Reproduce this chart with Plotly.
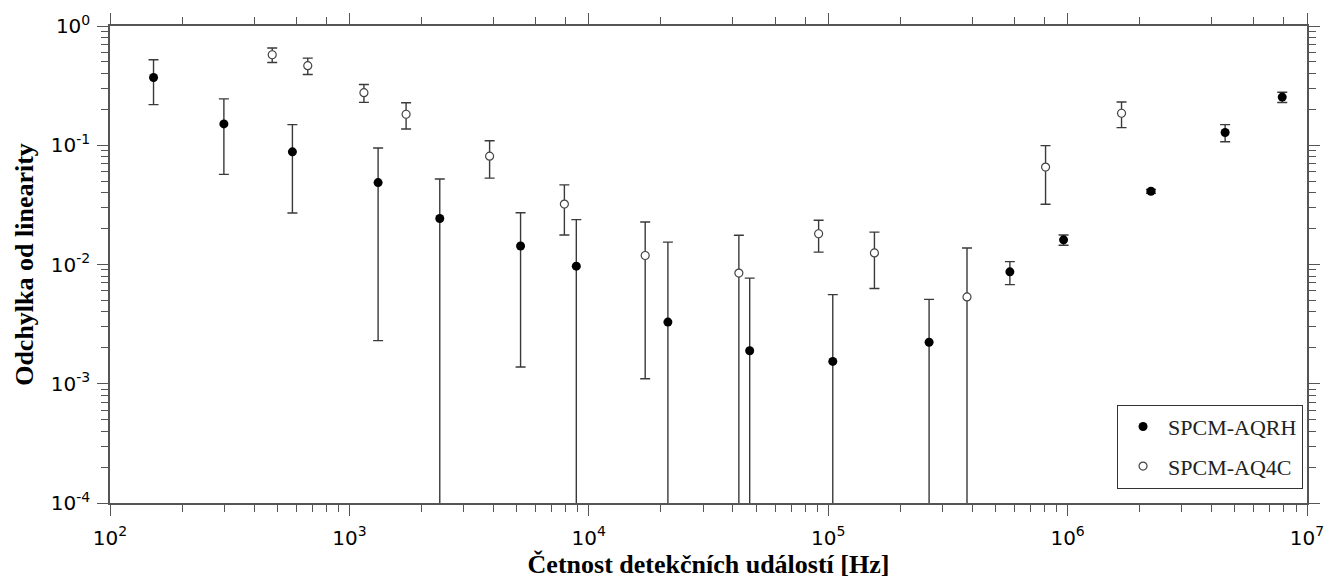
import plotly.graph_objects as go

# SPCM-AQRH (filled)
aqrh_x = [152, 299, 578, 1318, 2385, 5188, 8868, 21400, 47000, 104500, 263900, 574000, 962000, 2.23e6, 4.55e6, 7.88e6]
aqrh_y = [0.37, 0.151, 0.088, 0.0486, 0.0243, 0.01428, 0.00968, 0.00329, 0.00189, 0.00154, 0.00223, 0.00868, 0.0161, 0.0411, 0.128, 0.2535]
aqrh_err = [0.151, 0.094, 0.061, 0.0463, 0.0278, 0.0129, 0.0141, 0.0121, 0.0058, 0.00405, 0.00287, 0.0019, 0.0016, 0.0015, 0.021, 0.025]

# SPCM-AQ4C (open)
aq4c_x = [476, 670, 1150, 1725, 3852, 7907, 17200, 42350, 91200, 156000, 380000, 809000, 1.68e6]
aq4c_y = [0.574, 0.465, 0.276, 0.182, 0.081, 0.0321, 0.0119, 0.00847, 0.0181, 0.0125, 0.00535, 0.0656, 0.1855]
aq4c_err = [0.08, 0.073, 0.047, 0.045, 0.028, 0.0144, 0.0108, 0.0091, 0.0054, 0.0062, 0.0084, 0.0336, 0.045]

x_tickvals = [1e2, 1e3, 1e4, 1e5, 1e6, 1e7]
x_ticktext = ["10<sup>2</sup>", "10<sup>3</sup>", "10<sup>4</sup>", "10<sup>5</sup>", "10<sup>6</sup>", "10<sup>7</sup>"]
y_tickvals = [1e-4, 1e-3, 1e-2, 1e-1, 1e0]
y_ticktext = ["10<sup>-4</sup>", "10<sup>-3</sup>", "10<sup>-2</sup>", "10<sup>-1</sup>", "10<sup>0</sup>"]
top_minor = [m * 10 ** e for e in range(2, 7) for m in (2, 4, 6, 8)]

ERR_COLOR = "#3a3a3a"
AX_COLOR = "#555555"

fig = go.Figure()
fig.add_trace(go.Scatter(
    x=aqrh_x, y=aqrh_y, mode="markers", name="SPCM-AQRH",
    marker=dict(color="black", size=9, symbol="circle"),
    error_y=dict(type="data", array=aqrh_err, symmetric=True, color=ERR_COLOR, thickness=1.4, width=5),
    legendgroup="a",
))
fig.add_trace(go.Scatter(
    x=aq4c_x, y=aq4c_y, mode="markers", name="SPCM-AQ4C",
    marker=dict(color="white", size=8, symbol="circle", line=dict(color="#444444", width=1.2)),
    error_y=dict(type="data", array=aq4c_err, symmetric=True, color=ERR_COLOR, thickness=1.4, width=5),
    legendgroup="b",
))
# invisible copy to anchor the top axis
fig.add_trace(go.Scatter(
    x=aqrh_x, y=aqrh_y, mode="markers", xaxis="x2", showlegend=False,
    marker=dict(opacity=0), hoverinfo="skip",
))

tick_font = dict(family="DejaVu Sans", size=20, color="black")
title_font = dict(family="Liberation Serif", size=26, color="black")

fig.update_layout(
    width=1336, height=585,
    margin=dict(l=110, r=16, t=22, b=82),
    paper_bgcolor="white", plot_bgcolor="white",
    showlegend=True,
    legend=dict(
        x=0.9967, xanchor="right", y=0.03, yanchor="bottom",
        bgcolor="white", bordercolor="#333333", borderwidth=1,
        font=dict(family="Liberation Serif", size=22, color="#222222"),
        tracegroupgap=8, itemwidth=40,
    ),
    xaxis=dict(
        type="log", range=[2, 7], tickvals=x_tickvals, ticktext=x_ticktext,
        ticks="outside", ticklen=11, tickwidth=1.3, tickcolor=AX_COLOR,
        showline=True, linecolor=AX_COLOR, linewidth=1.5,
        showgrid=False, zeroline=False, tickfont=tick_font, ticklabelstandoff=5,
        minor=dict(ticks="outside", ticklen=7, tickwidth=1.2, tickcolor=AX_COLOR, dtick="D1", showgrid=False),
        title=dict(text="<b>Četnost detekčních událostí [Hz]</b>", font=title_font, standoff=3),
    ),
    xaxis2=dict(
        type="log", range=[2, 7], overlaying="x", side="top", anchor="y",
        tickvals=x_tickvals, showticklabels=False,
        ticks="outside", ticklen=11, tickwidth=1.3, tickcolor=AX_COLOR,
        showline=True, linecolor=AX_COLOR, linewidth=1.5,
        showgrid=False, zeroline=False,
        minor=dict(ticks="outside", ticklen=7, tickwidth=1.2, tickcolor=AX_COLOR,
                   tickvals=top_minor, showgrid=False),
    ),
    yaxis=dict(
        type="log", range=[-4, 0], tickvals=y_tickvals, ticktext=y_ticktext,
        ticks="outside", ticklen=11, tickwidth=1.3, tickcolor=AX_COLOR,
        showline=True, linecolor=AX_COLOR, linewidth=1.5, mirror="ticks",
        showgrid=False, zeroline=False, tickfont=tick_font, ticklabelstandoff=3,
        minor=dict(ticks="outside", ticklen=7, tickwidth=1.2, tickcolor=AX_COLOR, dtick="D1", showgrid=False),
        title=dict(text="<b>Odchylka od linearity</b>", font=title_font, standoff=10),
    ),
)

fig.write_html("out.html")
